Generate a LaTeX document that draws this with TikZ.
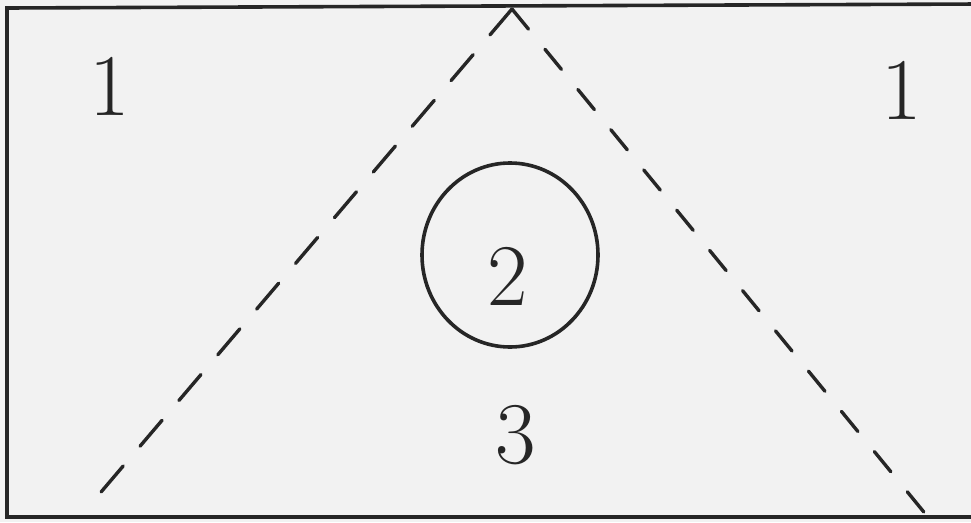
\documentclass[tikz,border=0pt]{standalone}
\tikzset{
  frameline/.style={line width=3.6pt, draw=black!85},
  dashline/.style={line width=3.4pt, draw=black!85, dash pattern=on 34pt off 26pt, line cap=round},
  ringline/.style={line width=3.6pt, draw=black!85},
  digit/.style={font=\fontsize{88}{88}\selectfont, text=black!85, inner sep=0pt}
}
\begin{document}
\begin{tikzpicture}[x=1pt,y=-1pt]
  \useasboundingbox (0,0) rectangle (971,522);
  \fill[black!5] (0,0) rectangle (971,522);
  \clip (0,0) rectangle (971,522);
  % frame
  \coordinate (tl) at (7,8);
  \coordinate (tr) at (980,4);
  \coordinate (bl) at (7,517);
  \coordinate (br) at (980,517);
  \draw[frameline] (tr) -- (tl) -- (bl) -- (br);
  % dashed triangle sides
  \coordinate (apex) at (512,9);
  \coordinate (leftend) at (90,505);
  \coordinate (rightend) at (932,522);
  \draw[dashline] (apex) -- (leftend);
  \draw[dashline, dash pattern=on 26pt off 26pt] (apex) -- (rightend);
  % circle
  \draw[ringline] (510,255) ellipse [x radius=88, y radius=92];
  % labels
  \node[digit] (one-left) at (110,86) {1};
  \node[digit] (one-right) at (902,90) {1};
  \node[digit] (two) at (508,276) {2};
  \node[digit] (three) at (516,435) {3};
\end{tikzpicture}
\end{document}
